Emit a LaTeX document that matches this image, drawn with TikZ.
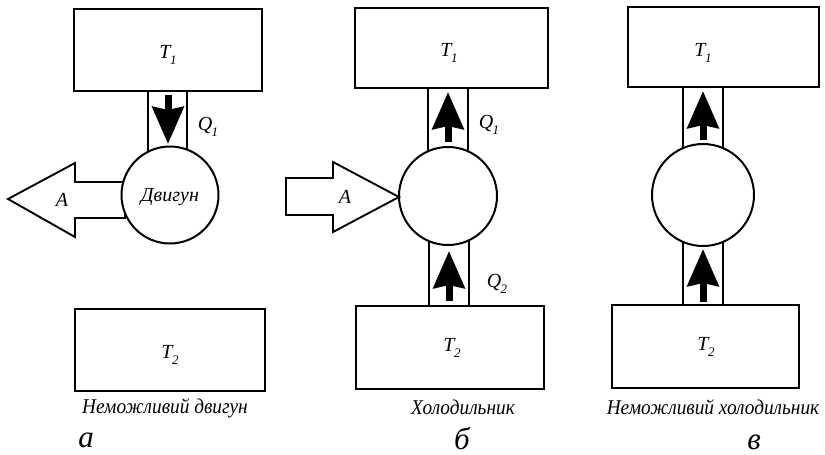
\documentclass[tikz,border=0pt]{standalone}
\usepackage{fontspec}
\setmainfont{Liberation Serif}
\newfontfamily\capfont[FakeStretch=0.92]{Liberation Serif}
\usetikzlibrary{arrows.meta}
\newcommand{\mysub}[2]{#1\kern-0.5pt\raisebox{-0.28em}{\fontsize{13}{13}\selectfont #2}}
\tikzset{
  res/.style={draw, line width=2pt, fill=white, inner sep=0pt},
  chan/.style={draw, line width=2pt, fill=white, inner sep=0pt, minimum width=39pt},
  eng/.style={draw, circle, line width=2pt, fill=white, inner sep=0pt},
  lab/.style={font=\fontsize{20}{20}\selectfont\itshape, inner sep=0pt},
  captext/.style={font=\fontsize{21}{21}\selectfont\capfont\itshape, inner sep=0pt},
  panletter/.style={font=\fontsize{31}{31}\selectfont\itshape, inner sep=0pt},
  qarrow/.style={line width=7pt, -{Stealth[length=37pt,width=31pt,inset=3pt]}},
  work/.style={draw, line width=1.9pt, fill=white, line join=miter}
}
\begin{document}
\begin{tikzpicture}[x=1pt,y=-1pt]
\useasboundingbox (0,0) rectangle (825,455);
% ---------- panel a ----------
\node[chan, minimum height=70pt] (a-ch) at (167.5,125) {};
\node[res, minimum width=188pt, minimum height=82pt] (a-t1) at (168,50) {};
\node[lab] at (168,55) {\mysub{T}{1}};
\draw[work] (8,199) -- (75,163) -- (75,182) -- (125,182) -- (125,218) -- (75,218) -- (75,237) -- cycle;
\node[eng, minimum size=97pt] (a-e) at (170,195) {};
\node[lab] at (170,197) {Двигун};
\coordinate (a-q1) at (168,95);
\coordinate (a-q2) at (168,144);
\draw[qarrow] (a-q1) -- (a-q2);
\node[lab] at (208,127) {\mysub{Q}{1}};
\node[lab] (a-A) at (62,200) {A};
\node[res, minimum width=190pt, minimum height=82pt] (a-t2) at (170,350) {};
\node[lab] at (170,355) {\mysub{T}{2}};
\node[captext] (a-cap) at (165,408) {Неможливий двигун};
\node[panletter] (a-let) at (86,440) {а};
% ---------- panel b ----------
\node[chan, minimum height=70pt, minimum width=40pt] (b-ch1) at (448,122) {};
\node[chan, minimum height=70pt, minimum width=40pt] (b-ch2) at (449,272) {};
\node[res, minimum width=193pt, minimum height=80pt] (b-t1) at (451.5,48) {};
\node[lab] at (449,53) {\mysub{T}{1}};
\node[res, minimum width=188pt, minimum height=83pt] (b-t2) at (450,347.5) {};
\node[lab] at (452,348) {\mysub{T}{2}};
\node[eng, minimum size=98pt] (b-e) at (448,196) {};
\draw[work] (286,178) -- (333,178) -- (333,162) -- (399,197) -- (333,232) -- (333,215) -- (286,215) -- cycle;
\node[lab] (b-A) at (345,197) {A};
\coordinate (b-q1a) at (448,142);
\coordinate (b-q1b) at (448,92);
\draw[qarrow] (b-q1a) -- (b-q1b);
\coordinate (b-q2a) at (449,301);
\coordinate (b-q2b) at (449,251);
\draw[qarrow] (b-q2a) -- (b-q2b);
\node[lab] at (489,125) {\mysub{Q}{1}};
\node[lab] at (497,284) {\mysub{Q}{2}};
\node[captext] (b-cap) at (463,407) {Холодильник};
\node[panletter] (b-let) at (462,439) {б};
% ---------- panel c ----------
\node[chan, minimum height=70pt, minimum width=40pt] (c-ch1) at (703,120) {};
\node[chan, minimum height=70pt, minimum width=40pt] (c-ch2) at (703,272) {};
\node[res, minimum width=191pt, minimum height=80pt] (c-t1) at (723.5,47) {};
\node[lab] at (703,53) {\mysub{T}{1}};
\node[res, minimum width=187pt, minimum height=83pt] (c-t2) at (705.5,346.5) {};
\node[lab] at (706,347) {\mysub{T}{2}};
\node[eng, minimum size=102pt] (c-e) at (703,195) {};
\coordinate (c-q1a) at (703,140);
\coordinate (c-q1b) at (703,91);
\draw[qarrow] (c-q1a) -- (c-q1b);
\coordinate (c-q2a) at (703,302);
\coordinate (c-q2b) at (703,249);
\draw[qarrow] (c-q2a) -- (c-q2b);
\node[captext] (c-cap) at (713,407) {Неможливий холодильник};
\node[panletter] (c-let) at (754,442) {в};
\end{tikzpicture}
\end{document}
